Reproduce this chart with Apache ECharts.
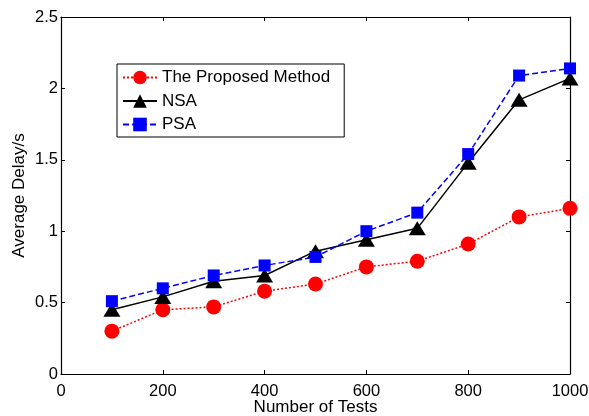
<!DOCTYPE html>
<html>
<head>
<meta charset="utf-8">
<script src="https://cdn.jsdelivr.net/npm/echarts@6/dist/echarts.min.js"></script>
<style>
  html, body { margin: 0; padding: 0; background: #fff; }
  #chart { width: 589px; height: 416px; }
</style>
</head>
<body>
<div id="chart"></div>
<script>
// values
var tests = [100, 200, 300, 400, 500, 600, 700, 800, 900, 1000];
var proposed = [0.30, 0.45, 0.47, 0.58, 0.63, 0.75, 0.79, 0.91, 1.10, 1.16];
var nsa = [0.45, 0.54, 0.65, 0.69, 0.86, 0.94, 1.02, 1.48, 1.92, 2.07];
var psa = [0.51, 0.60, 0.69, 0.76, 0.82, 1.00, 1.13, 1.54, 2.09, 2.14];
var seriesNames = ['The Proposed Method', 'NSA', 'PSA'];

function pairs(ys) {
    var out = [];
    tests.forEach(function (x, i) { out.push([x, ys[i]]); });
    return out;
}

var font = 'Liberation Sans, Arial, sans-serif';
var tickStyle = { show: true, inside: true, length: 4, lineStyle: { color: '#000', width: 1 } };
var axisLine = { show: true, onZero: false, lineStyle: { color: '#000', width: 1.2 } };
var plainNum = function (v) { return String(v); };

var chart = echarts.init(document.getElementById('chart'), null, { renderer: 'canvas' });
chart.setOption({
    animation: false,
    backgroundColor: '#fff',
    grid: { left: 61, right: 19, top: 17, bottom: 42, containLabel: false, outerBoundsMode: 'none' },
    legend: {
        data: seriesNames,
        orient: 'vertical',
        left: 117,
        top: 64,
        padding: [5, 14, 4, 5],
        itemGap: 6.5,
        itemWidth: 34,
        itemHeight: 17,
        borderColor: '#000',
        borderWidth: 1,
        borderRadius: 0,
        backgroundColor: '#fff',
        textStyle: { fontFamily: font, fontSize: 17, color: '#000' }
    },
    xAxis: [{
        type: 'value', min: 0, max: 1000, interval: 200,
        name: 'Number of Tests', nameLocation: 'middle', nameGap: 25, nameMoveOverlap: false,
        nameTextStyle: { fontFamily: font, fontSize: 17, color: '#000' },
        axisLine: axisLine, axisTick: tickStyle, splitLine: { show: false },
        axisLabel: { fontFamily: font, fontSize: 16.5, color: '#000', margin: 9, formatter: plainNum }
    }, {
        type: 'value', min: 0, max: 1000, interval: 200, position: 'top',
        axisLine: axisLine, axisTick: tickStyle, splitLine: { show: false },
        axisLabel: { show: false }
    }],
    yAxis: [{
        type: 'value', min: 0, max: 2.5, interval: 0.5,
        name: 'Average Delay/s', nameLocation: 'middle', nameGap: 33, nameMoveOverlap: false,
        nameTextStyle: { fontFamily: font, fontSize: 17, color: '#000' },
        axisLine: axisLine, axisTick: tickStyle, splitLine: { show: false },
        axisLabel: { fontFamily: font, fontSize: 16.5, color: '#000', margin: 3, formatter: plainNum }
    }, {
        type: 'value', min: 0, max: 2.5, interval: 0.5, position: 'right',
        axisLine: axisLine, axisTick: tickStyle, splitLine: { show: false },
        axisLabel: { show: false }
    }],
    series: [{
        name: seriesNames[0], type: 'line', data: pairs(proposed),
        symbol: 'circle', symbolSize: 15,
        itemStyle: { color: '#ff0000' },
        lineStyle: { color: '#ff0000', width: 1.5, type: [2, 2] }
    }, {
        name: seriesNames[1], type: 'line', data: pairs(nsa),
        symbol: 'triangle', symbolSize: [17, 14],
        itemStyle: { color: '#000' },
        lineStyle: { color: '#000', width: 1.5, type: 'solid' }
    }, {
        name: seriesNames[2], type: 'line', data: pairs(psa),
        symbol: 'rect', symbolSize: 12,
        itemStyle: { color: '#0000ff' },
        lineStyle: { color: '#0000ff', width: 1.5, type: [6, 3] }
    }]
});
</script>
</body>
</html>
